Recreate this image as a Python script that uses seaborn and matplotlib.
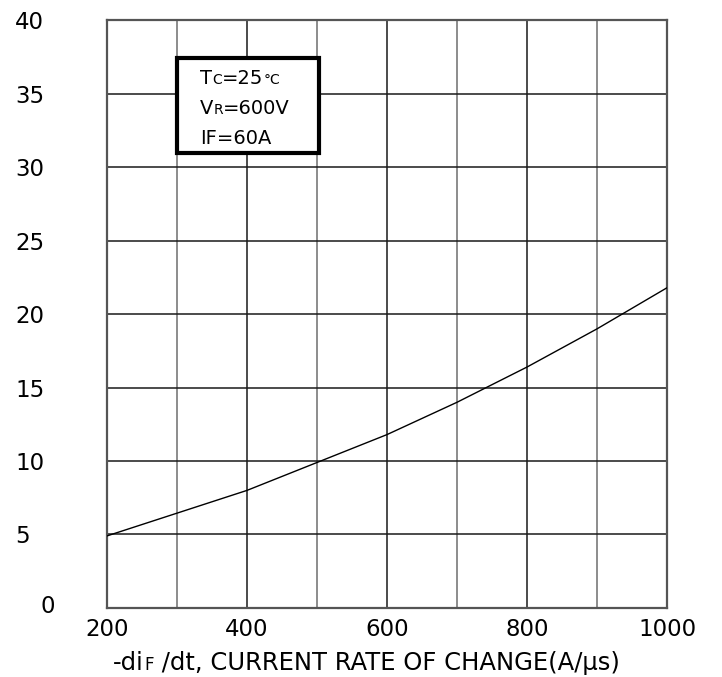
import matplotlib
matplotlib.use("Agg")
import matplotlib.pyplot as plt
import matplotlib.transforms as mtransforms
import seaborn as sns
from matplotlib.patches import Rectangle

# curve
di_dt = [200, 300, 400, 500, 600, 700, 800, 900, 1000]
trr = [4.9, 6.45, 8.0, 9.9, 11.8, 14.0, 16.4, 19.0, 21.8]

x_ticks = [200, 400, 600, 800, 1000]
x_minor = [300, 500, 700, 900]
y_ticks = [0, 5, 10, 15, 20, 25, 30, 35, 40]

sns.set_style("white")
plt.rcParams["font.family"] = ["DejaVu Sans"]
plt.rcParams["text.color"] = "black"
plt.rcParams["xtick.color"] = "black"
plt.rcParams["ytick.color"] = "black"

fig = plt.figure(figsize=(7.22, 6.77), dpi=100)
ax = fig.add_axes([0.148, 0.102, 0.776, 0.868])

# grid: dark major lines, lighter for odd hundreds
for x in x_ticks:
    ax.axvline(x, color="#1a1a1a", lw=1.1, zorder=1)
for x in x_minor:
    ax.axvline(x, color="#6e6e6e", lw=1.1, zorder=1)
for y in y_ticks:
    ax.axhline(y, color="#1a1a1a", lw=1.1, zorder=1)

sns.lineplot(x=di_dt, y=trr, color="black", lw=1.0, ax=ax, zorder=3)

ax.set_xlim(200, 1000)
ax.set_ylim(0, 40)
ax.set_xticks(x_ticks)
ax.set_yticks(y_ticks)
ax.tick_params(axis="both", length=0, labelsize=16.5)
ax.tick_params(axis="x", pad=7)
ax.tick_params(axis="y", pad=66)
for lab in ax.get_yticklabels():
    lab.set_horizontalalignment("left")
# the "0" sits further right in the reference
zero = ax.get_yticklabels()[0]
zero.set_transform(zero.get_transform() +
                   mtransforms.ScaledTranslation(25 / 100, 4 / 100, fig.dpi_scale_trans))
for s in ax.spines.values():
    s.set_color("#555555")
    s.set_linewidth(1.6)
ax.set_xlabel("")
ax.set_ylabel("")

lf = "DejaVu Sans"


def chain(x, y, parts, big, small):
    # parts: list of (text, is_small); small parts sit on the same baseline
    prev = None
    for txt, is_small in parts:
        fs = small if is_small else big
        if prev is None:
            prev = ax.text(x, y, txt, transform=ax.transAxes, fontsize=fs, family=lf,
                           va="bottom", ha="left", zorder=6)
            prev_small = is_small
            continue
        dy = 0.0
        if is_small and not prev_small:
            dy = 0.9
        elif prev_small and not is_small:
            dy = -0.9
        prev = ax.annotate(txt, xy=(1, 0), xycoords=prev, fontsize=fs, family=lf,
                           va="bottom", ha="left", xytext=(0.3 if is_small else 0, dy),
                           textcoords="offset points", zorder=6)
        prev_small = is_small


# x label with small "F"
chain(0.011, -0.114, [("-di", False), ("F", True),
                      (" /dt, CURRENT RATE OF CHANGE(A/\u03bcs)", False)], 17.5, 12)

# condition box
ax.add_patch(Rectangle((0.125, 0.775), 0.253, 0.161, transform=ax.transAxes,
                       fill=True, facecolor="white", edgecolor="black", lw=3, zorder=5))
chain(0.166, 0.884, [("T", False), ("C", True), ("=25", False), ("\u00b0C", True)], 14, 10)
chain(0.166, 0.833, [("V", False), ("R", True), ("=600V", False)], 14, 10)
chain(0.166, 0.782, [("IF=60A", False)], 14, 10)

fig.savefig("out.png", dpi=100)
